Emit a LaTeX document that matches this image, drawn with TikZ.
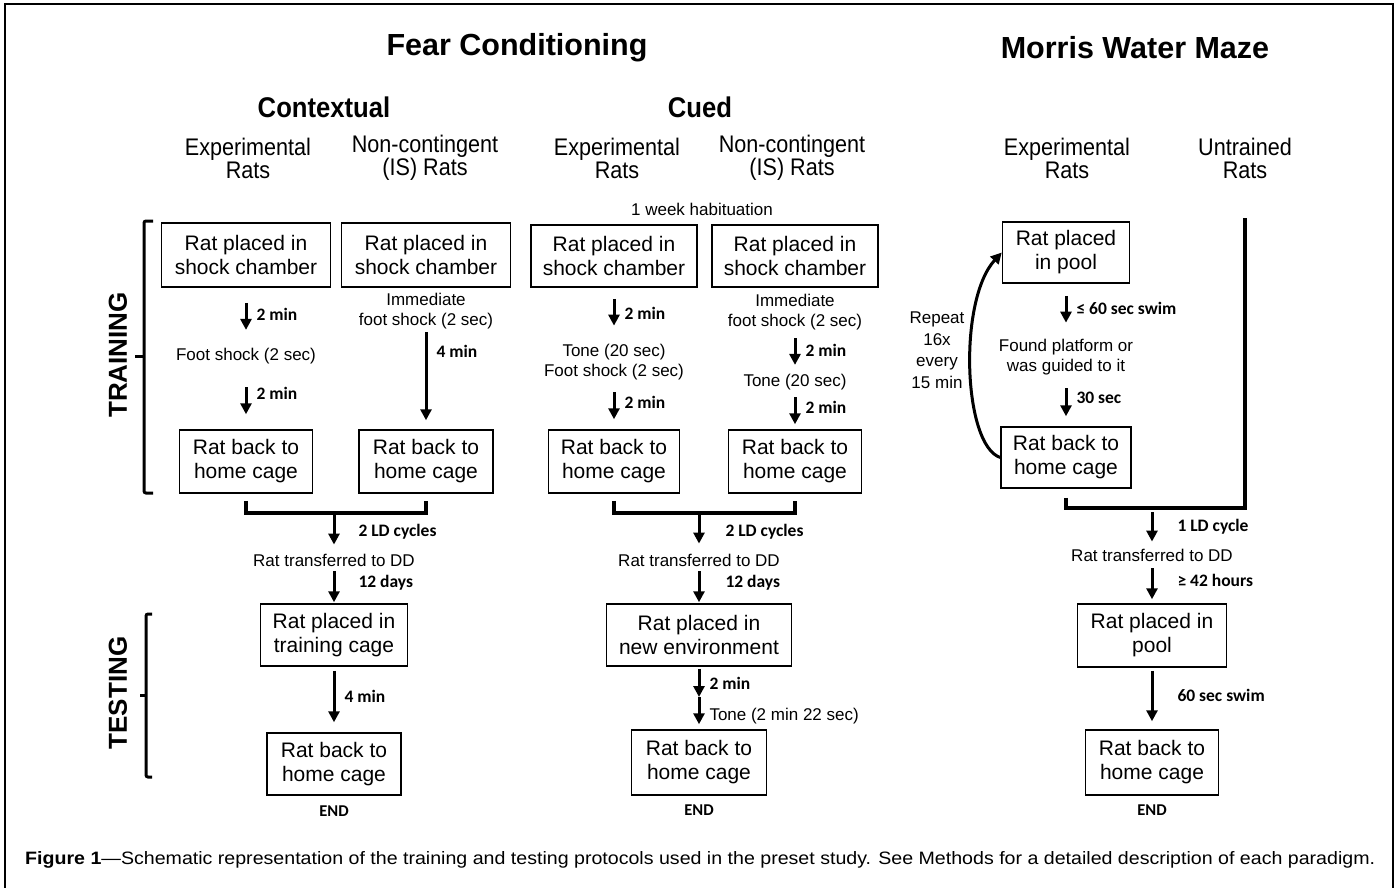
\documentclass[tikz,border=0pt]{standalone}
\usepackage{fontspec}
\setmainfont{Liberation Sans}
\newfontfamily\narrowfont{Liberation Sans}[FakeStretch=0.9]
\newfontfamily\calfont{Carlito}
\usetikzlibrary{arrows.meta}

\begin{document}
\begin{tikzpicture}[x=1pt, y=-1pt, % pixel grid, y runs downwards
	> = {Triangle[length=11pt,width=11pt]}, % arrow head style
	flow/.style={->, line width=3pt}, % time arrows
	merge/.style={line width=3.4pt}, % merging lines
	brk/.style={line width=3pt, rounded corners=2pt},
	box/.style={draw, line width=1.5pt, inner sep=0pt, align=center,
		font=\fontsize{21}{24}\selectfont},
	txt/.style={inner sep=0pt, align=center, font=\fontsize{17}{20.5}\selectfont},
	dur/.style={right=9pt, pos=0.45, inner sep=0pt,
		font=\calfont\bfseries\fontsize{17.5}{20}\selectfont},
	hdr/.style={inner sep=0pt, align=center, font=\narrowfont\fontsize{24}{23}\selectfont},
	title/.style={inner sep=0pt, font=\bfseries\fontsize{30.5}{32}\selectfont},
	sub/.style={inner sep=0pt, font=\narrowfont\bfseries\fontsize{28.5}{30}\selectfont},
	side/.style={inner sep=0pt, rotate=90, font=\bfseries\fontsize{26}{26}\selectfont}]
	\useasboundingbox (0,0) rectangle (1398,888);
	\draw[line width=1.2pt] (5,888) -- (5,4) -- (1393,4) -- (1393,888);

	% headings
	\node[title] (fear) at (517,48) {Fear Conditioning};
	\node[title] (mwm) at (1135,48) {Morris Water Maze};
	\node[sub] (ctx) at (324,107) {Contextual};
	\node[sub] (cue) at (700,107) {Cued};
	\node[hdr] (hAe) at (248,158) {Experimental\\Rats};
	\node[hdr] (hAi) at (425,158) {Non-contingent\\(IS) Rats};
	\node[hdr] (hBe) at (617,158) {Experimental\\Rats};
	\node[hdr] (hBi) at (792,158) {Non-contingent\\(IS) Rats};
	\node[hdr] (hCe) at (1067,158) {Experimental\\Rats};
	\node[hdr] (hCu) at (1245,158) {Untrained\\Rats};
	\node[txt] (hab) at (702,209) {1 week habituation};

	\node[side] (train) at (118,355) {TRAINING};
	\node[side] (test) at (118,693) {TESTING};
	\draw[brk] (153,221) -- (144,221) -- (144,493) -- (153,493);
	\draw[brk] (144,356) -- (135,356);
	\draw[brk] (152,614) -- (146,614) -- (146,777) -- (152,777);
	\draw[brk] (146,695) -- (140,695);

	% contextual
	\node[box, minimum width=169pt, minimum height=64pt] (A1) at (246,255) {Rat placed in\\shock chamber};
	\node[txt] (A2) at (246,356) {Foot shock (2 sec)};
	\node[box, minimum width=133pt, minimum height=63pt] (A3) at (246,461.5) {Rat back to\\home cage};
	\node[box, minimum width=169pt, minimum height=64pt] (B1) at (426,255) {Rat placed in\\shock chamber};
	\node[txt] (B2) at (426,311) {Immediate\\foot shock (2 sec)};
	\node[box, minimum width=134pt, minimum height=63pt] (B3) at (426,461.5) {Rat back to\\home cage};
	\draw[flow, shorten <=15pt, shorten >=18pt] (A1) -- (A2) node[dur] {2 min};
	\draw[flow, shorten <=23pt, shorten >=15pt] (A2) -- (A3) node[dur] {2 min};
	\draw[flow, shorten <=3pt, shorten >=9pt] (B2) -- (B3) node[dur, pos=0.22] {4 min};

	% cued
	\node[box, minimum width=166pt, minimum height=62pt] (C1) at (614,256) {Rat placed in\\shock chamber};
	\node[txt] (C2) at (614,362) {Tone (20 sec)\\Foot shock (2 sec)};
	\node[box, minimum width=131pt, minimum height=63pt] (C3) at (614,461.5) {Rat back to\\home cage};
	\node[box, minimum width=166pt, minimum height=62pt] (D1) at (795,256) {Rat placed in\\shock chamber};
	\node[txt] (D2) at (795,312) {Immediate\\foot shock (2 sec)};
	\node[txt] (D4) at (795,382) {Tone (20 sec)};
	\node[box, minimum width=133pt, minimum height=63pt] (D3) at (795,461.5) {Rat back to\\home cage};
	\draw[flow, shorten <=11pt, shorten >=18pt] (C1) -- (C2) node[dur] {2 min};
	\draw[flow, shorten <=12pt, shorten >=10pt] (C2) -- (C3) node[dur] {2 min};
	\draw[flow, shorten <=8pt, shorten >=9pt] (D2) -- (D4) node[dur] {2 min};
	\draw[flow, shorten <=7pt, shorten >=5pt] (D4) -- (D3) node[dur] {2 min};

	% water maze
	\node[box, minimum width=127pt, minimum height=61pt] (E1) at (1066,252.5) {Rat placed\\in pool};
	\node[txt] (E2) at (1066,357) {Found platform or\\was guided to it};
	\node[box, minimum width=130pt, minimum height=61pt] (E3) at (1066,457.5) {Rat back to\\home cage};
	\node[txt, font=\fontsize{17}{21.5}\selectfont] (rep) at (937,350) {Repeat\\16x\\every\\15 min};
	\draw[flow, shorten <=12pt, shorten >=16pt] (E1) -- (E2) node[dur] {≤ 60 sec swim};
	\draw[flow, shorten <=13pt, shorten >=10pt] (E2) -- (E3) node[dur] {30 sec};
	\draw[flow] (E3.west) .. controls (963,445) and (958,300) .. (E1.west);

	% merging after training
	\coordinate (jA) at (334,513);
	\coordinate (jB) at (699,513);
	\coordinate (jM) at (1152,508);
	\coordinate (uC) at (1245,508);
	\coordinate (uTop) at (1245,218);
	\draw[merge, shorten <=7pt, shorten >=7pt] (A3.south) |- (jA) -| (B3.south);
	\draw[merge, shorten <=7pt, shorten >=7pt] (C3.south) |- (jB) -| (D3.south);
	\draw[merge, shorten <=9pt] (E3.south) |- (uC) -- (uTop);

	% testing
	\node[txt] (A4) at (334,560) {Rat transferred to DD};
	\node[box, minimum width=147pt, minimum height=62pt] (A5) at (334,635) {Rat placed in\\training cage};
	\node[box, minimum width=134pt, minimum height=62pt] (A7) at (334,764) {Rat back to\\home cage};
	\node[inner sep=0pt, font=\calfont\bfseries\fontsize{16.5}{18}\selectfont] (A8) at (334,811) {END};
	\draw[flow, shorten >=9pt] (jA) -- (A4) node[dur, right=14pt] {2 LD cycles};
	\draw[flow, shorten <=5pt, shorten >=1pt] (A4) -- (A5) node[dur, right=14pt] {12 days};
	\draw[flow, shorten <=4pt, shorten >=10pt] (A5) -- (A7) node[dur] {4 min};

	\node[txt] (C4) at (699,560) {Rat transferred to DD};
	\node[box, minimum width=185pt, minimum height=62pt] (C5) at (699,635) {Rat placed in\\new environment};
	\coordinate (cT) at (699,697);
	\node[box, minimum width=135pt, minimum height=65pt] (C7) at (699,762.5) {Rat back to\\home cage};
	\node[inner sep=0pt, font=\calfont\bfseries\fontsize{16.5}{18}\selectfont] (C8) at (699,810) {END};
	\draw[flow, shorten >=10pt] (jB) -- (C4) node[dur, right=16pt] {2 LD cycles};
	\draw[flow, shorten <=5pt, shorten >=1pt] (C4) -- (C5) node[dur, right=16pt] {12 days};
	\draw[flow, shorten <=2pt] (C5) -- (cT) node[dur, pos=0.55] {2 min};
	\draw[flow, shorten >=5pt] (cT) -- (C7) node[txt, right=9pt, pos=0.6] {Tone (2 min 22 sec)};

	\node[txt] (E4) at (1152,555) {Rat transferred to DD};
	\node[box, minimum width=149pt, minimum height=63pt] (E5) at (1152,635.5) {Rat placed in\\pool};
	\node[box, minimum width=133pt, minimum height=65pt] (E7) at (1152,762.5) {Rat back to\\home cage};
	\node[inner sep=0pt, font=\calfont\bfseries\fontsize{16.5}{18}\selectfont] (E8) at (1152,810) {END};
	\draw[flow, shorten <=4pt, shorten >=7pt] (jM) -- (E4) node[dur, right=15pt] {1 LD cycle};
	\draw[flow, shorten <=7pt, shorten >=4pt] (E4) -- (E5) node[dur, right=15pt] {≥ 42 hours};
	\draw[flow, shorten <=3pt, shorten >=8pt] (E5) -- (E7) node[dur, right=15pt] {60 sec swim};

	% caption
	\node[anchor=base west, inner sep=0pt] (cap) at (25,864) {\resizebox{1350pt}{13pt}{\narrowfont\textbf{Figure 1}—Schematic representation of the training and testing protocols used in the preset study. See Methods for a detailed description of each paradigm.}};
\end{tikzpicture}
\end{document}
